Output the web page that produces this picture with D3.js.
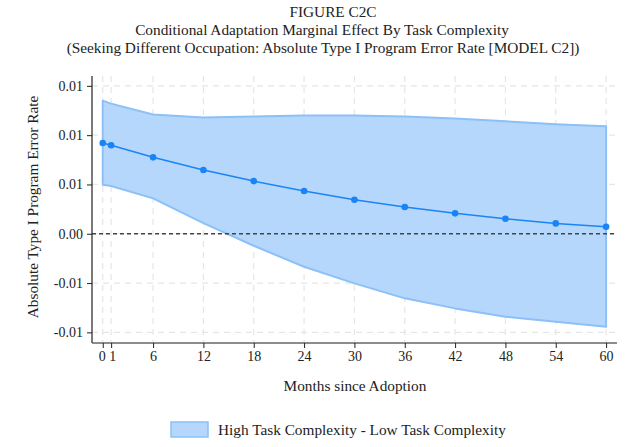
<!DOCTYPE html>
<html>
<head>
<meta charset="utf-8">
<script src="https://cdn.jsdelivr.net/npm/d3@7"></script>
<style>
  html, body { margin: 0; padding: 0; background: #fff; }
  svg text { font-family: "Liberation Serif", "Times New Roman", serif; fill: #222; }
</style>
</head>
<body>
<svg id="chart" width="631" height="447"></svg>
<script>
// Months since adoption at which the marginal effect is evaluated
const months = [0, 1, 6, 12, 18, 24, 30, 36, 42, 48, 54, 60];
// Marginal effect (High - Low task complexity) and its confidence bounds
const effect = [0.0092, 0.00897, 0.00775, 0.00646, 0.00534, 0.00433, 0.00345, 0.00271, 0.00207, 0.00152, 0.00105, 0.00071];
const upper  = [0.0135, 0.0132, 0.0121, 0.0118, 0.0119, 0.0120, 0.0120, 0.0119, 0.0117, 0.0114, 0.0111, 0.0109];
const lower  = [0.00497, 0.00484, 0.00359, 0.00108, -0.00122, -0.00335, -0.00503, -0.00655, -0.00757, -0.00842, -0.00892, -0.00943];
// Axis ticks and their printed labels
const yTicks = [0.015, 0.01, 0.005, 0, -0.005, -0.01];
const yTickLabels = ["0.01", "0.01", "0.01", "0.00", "-0.01", "-0.01"];
const xTicks = [0, 1, 6, 12, 18, 24, 30, 36, 42, 48, 54, 60];

const titleLines = [
  "FIGURE C2C",
  "Conditional Adaptation Marginal Effect By Task Complexity",
  "(Seeking Different Occupation: Absolute Type I Program Error Rate [MODEL C2])"
];
const yTitle = "Absolute Type I Program Error Rate";
const xTitle = "Months since Adoption";
const legendLabel = "High Task Complexity - Low Task Complexity";

const data = months.map((m, i) => ({ m, e: effect[i], hi: upper[i], lo: lower[i] }));

const svg = d3.select("#chart");
const plot = { left: 92, right: 617, top: 76, bottom: 343 };
const labelSize = 15.3;

const x = d3.scaleLinear().domain([-1.28, 61.3]).range([plot.left, plot.right]);
const y = d3.scaleLinear().domain([-0.01108, 0.0160]).range([plot.bottom, plot.top]);

const bandFill = "#b5d7fc";
const bandEdge = "#8cc0f7";
const lineCol = "#1a84f6";

// Grid lines
const grid = svg.append("g");
grid.selectAll("line.v").data(xTicks).join("line")
  .attr("x1", d => x(d)).attr("x2", d => x(d))
  .attr("y1", plot.top).attr("y2", plot.bottom)
  .attr("stroke", "#e6e6e6").attr("stroke-width", 1.2).attr("stroke-dasharray", "6,5");
grid.selectAll("line.h").data(yTicks).join("line")
  .attr("x1", plot.left).attr("x2", plot.right)
  .attr("y1", d => y(d)).attr("y2", d => y(d))
  .attr("stroke", "#e6e6e6").attr("stroke-width", 1.2).attr("stroke-dasharray", "6,5");

// Confidence band
const area = d3.area().x(d => x(d.m)).y0(d => y(d.lo)).y1(d => y(d.hi));
svg.append("path").datum(data)
  .attr("d", area)
  .attr("fill", bandFill)
  .attr("stroke", bandEdge).attr("stroke-width", 2).attr("stroke-linejoin", "round");

// Zero reference line
svg.append("line")
  .attr("x1", plot.left).attr("x2", plot.right)
  .attr("y1", y(0)).attr("y2", y(0))
  .attr("stroke", "#444").attr("stroke-width", 1.3).attr("stroke-dasharray", "4,3");

// Marginal effect line and markers
const line = d3.line().x(d => x(d.m)).y(d => y(d.e));
svg.append("path").datum(data)
  .attr("d", line).attr("fill", "none")
  .attr("stroke", lineCol).attr("stroke-width", 1.5);
svg.selectAll("circle.pt").data(data).join("circle")
  .attr("cx", d => x(d.m)).attr("cy", d => y(d.e)).attr("r", 3.3)
  .attr("fill", lineCol);

// Axes
const yAxis = d3.axisLeft(y).tickValues(yTicks)
  .tickFormat((d, i) => yTickLabels[i]).tickSize(5).tickPadding(4);
const gy = svg.append("g").attr("transform", `translate(${plot.left},0)`).call(yAxis);
gy.select(".domain").attr("d", `M0,${plot.top}V${plot.bottom}`).attr("stroke", "#222").attr("stroke-width", 1.2);

const xAxis = d3.axisBottom(x).tickValues(xTicks).tickFormat(d3.format("d")).tickSize(5).tickPadding(3);
const gx = svg.append("g").attr("transform", `translate(0,${plot.bottom})`).call(xAxis);
gx.select(".domain").attr("d", `M${plot.left},0H${plot.right}`).attr("stroke", "#666").attr("stroke-width", 1.6);

[gx, gy].forEach(g => {
  g.selectAll(".tick line").attr("stroke", "#222");
  g.selectAll(".tick text").attr("font-size", 14).attr("fill", "#222")
    .attr("font-family", "Liberation Serif, serif");
});
// Keep the adjacent 0 and 1 labels from touching
gx.selectAll(".tick text").filter(d => d === 0).attr("dx", -1);
gx.selectAll(".tick text").filter(d => d === 1).attr("dx", 1);

// Titles
const titleX = [333, 322, 323];
svg.selectAll("text.title").data(titleLines).join("text")
  .attr("class", "title")
  .attr("x", (d, i) => titleX[i]).attr("y", (d, i) => 17 + i * 18)
  .attr("text-anchor", "middle").attr("font-size", labelSize)
  .text(d => d);

svg.append("text")
  .attr("transform", `translate(38,207) rotate(-90)`)
  .attr("text-anchor", "middle").attr("font-size", labelSize)
  .text(yTitle);

svg.append("text")
  .attr("x", 355).attr("y", 391)
  .attr("text-anchor", "middle").attr("font-size", labelSize)
  .text(xTitle);

// Legend
const lg = svg.append("g");
lg.append("rect").attr("x", 171).attr("y", 422).attr("width", 37).attr("height", 15)
  .attr("fill", bandFill).attr("stroke", bandEdge).attr("stroke-width", 1.5);
lg.append("text").attr("x", 218).attr("y", 434.5).attr("font-size", labelSize).text(legendLabel);
</script>
</body>
</html>
